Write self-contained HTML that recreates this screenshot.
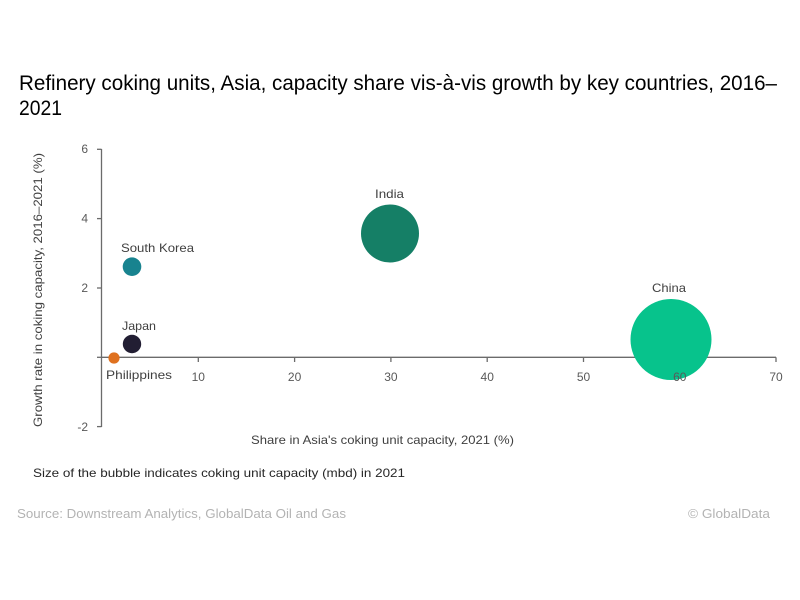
<!DOCTYPE html>
<html>
<head>
<meta charset="utf-8">
<style>
  html, body { margin:0; padding:0; background:#ffffff; }
  svg { display:block; }
  text { font-family: "Liberation Sans", "DejaVu Sans", sans-serif; }
</style>
</head>
<body>
<svg width="800" height="600" viewBox="0 0 800 600" xmlns="http://www.w3.org/2000/svg">
  <rect x="0" y="0" width="800" height="600" fill="#ffffff"/>

  <!-- Title -->
  <text x="19" y="90" font-size="21" fill="#000000" textLength="758" lengthAdjust="spacingAndGlyphs">Refinery coking units, Asia, capacity share vis-à-vis growth by key countries, 2016–</text>
  <text x="19" y="115" font-size="21" fill="#000000" textLength="43" lengthAdjust="spacingAndGlyphs">2021</text>

  <!-- Y axis -->
  <line x1="101.5" y1="149" x2="101.5" y2="427" stroke="#6b6b6b" stroke-width="1.3"/>
  <g stroke="#6b6b6b" stroke-width="1.3">
    <line x1="97" y1="149.3" x2="101.5" y2="149.3"/>
    <line x1="97" y1="218.6" x2="101.5" y2="218.6"/>
    <line x1="97" y1="288" x2="101.5" y2="288"/>
    <line x1="97" y1="357.3" x2="101.5" y2="357.3"/>
    <line x1="97" y1="426.6" x2="101.5" y2="426.6"/>
  </g>

  <!-- X axis -->
  <line x1="101.5" y1="357.3" x2="776" y2="357.3" stroke="#6b6b6b" stroke-width="1.3"/>
  <g stroke="#6b6b6b" stroke-width="1.3">
    <line x1="198.3" y1="357.3" x2="198.3" y2="362"/>
    <line x1="294.6" y1="357.3" x2="294.6" y2="362"/>
    <line x1="390.9" y1="357.3" x2="390.9" y2="362"/>
    <line x1="487.2" y1="357.3" x2="487.2" y2="362"/>
    <line x1="583.5" y1="357.3" x2="583.5" y2="362"/>
    <line x1="679.8" y1="357.3" x2="679.8" y2="362"/>
    <line x1="776" y1="357.3" x2="776" y2="362"/>
  </g>

  <!-- Bubbles -->
  <circle cx="390" cy="233.5" r="29" fill="#157f66"/>
  <circle cx="671" cy="339.5" r="40.5" fill="#07c38c"/>
  <circle cx="132" cy="266.7" r="9.3" fill="#18838f"/>
  <circle cx="132" cy="344" r="9.2" fill="#221e33"/>
  <circle cx="114" cy="358" r="5.6" fill="#df711f"/>

  <!-- Y tick labels -->
  <g font-size="12" fill="#595959" text-anchor="end">
    <text x="88" y="153">6</text>
    <text x="88" y="222.5">4</text>
    <text x="88" y="292">2</text>
    <text x="88" y="431">-2</text>
  </g>

  <!-- X tick labels -->
  <g font-size="12" fill="#595959" text-anchor="middle">
    <text x="198.3" y="381">10</text>
    <text x="294.6" y="381">20</text>
    <text x="390.9" y="381">30</text>
    <text x="487.2" y="381">40</text>
    <text x="583.5" y="381">50</text>
    <text x="679.8" y="381">60</text>
    <text x="776" y="381">70</text>
  </g>

  <!-- Data labels -->
  <g font-size="12" fill="#404040">
    <text x="121" y="252" textLength="73" lengthAdjust="spacingAndGlyphs">South Korea</text>
    <text x="122" y="330" textLength="34" lengthAdjust="spacingAndGlyphs">Japan</text>
    <text x="106" y="379" textLength="66" lengthAdjust="spacingAndGlyphs">Philippines</text>
    <text x="375" y="198" textLength="29" lengthAdjust="spacingAndGlyphs">India</text>
    <text x="652" y="292" textLength="34" lengthAdjust="spacingAndGlyphs">China</text>
  </g>

  <!-- Axis titles -->
  <text x="251" y="444" font-size="12" fill="#404040" textLength="263" lengthAdjust="spacingAndGlyphs">Share in Asia's coking unit capacity, 2021 (%)</text>
  <text transform="translate(42,290) rotate(-90)" x="0" y="0" font-size="12" fill="#404040" text-anchor="middle" textLength="274" lengthAdjust="spacingAndGlyphs">Growth rate in coking capacity, 2016–2021 (%)</text>

  <!-- Note -->
  <text x="33" y="477" font-size="12" fill="#262626" textLength="372" lengthAdjust="spacingAndGlyphs">Size of the bubble indicates coking unit capacity (mbd) in 2021</text>

  <!-- Footer -->
  <text x="17" y="518" font-size="13" fill="#b3b3b3" textLength="329" lengthAdjust="spacingAndGlyphs">Source: Downstream Analytics, GlobalData Oil and Gas</text>
  <text x="688" y="518" font-size="13" fill="#b3b3b3" textLength="82" lengthAdjust="spacingAndGlyphs">© GlobalData</text>
</svg>
</body>
</html>
